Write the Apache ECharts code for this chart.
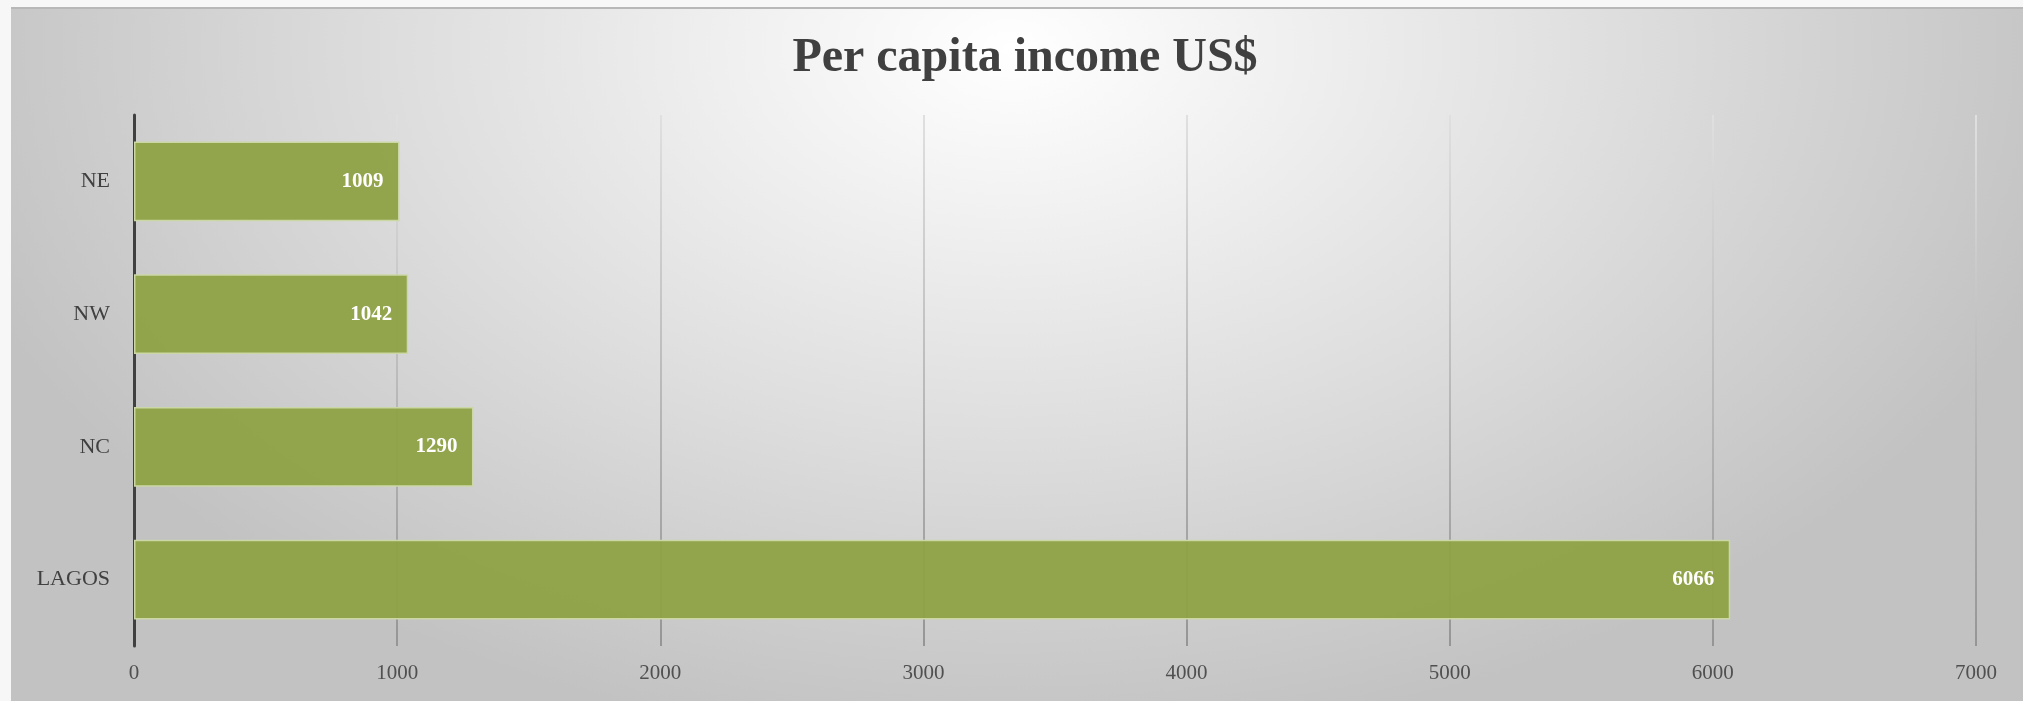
<!DOCTYPE html>
<html><head><meta charset="utf-8">
<script src="https://cdn.jsdelivr.net/npm/echarts@6/dist/echarts.min.js"></script>
<style>
html,body{margin:0;padding:0;width:2023px;height:701px;overflow:hidden;background:#f7f7f7;}
#frame{position:absolute;left:11px;top:7px;width:2012px;height:694px;border-top:2px solid #b8b8b8;
background:radial-gradient(ellipse 1100px 700px at 1000px 40px,#ffffff 0%,#f0f0f0 25%,#dedede 55%,#c2c2c2 100%);}
#chart{position:absolute;left:0;top:0;width:2023px;height:701px;}
</style></head><body>
<div id="frame"></div>
<div id="chart"></div>
<script>
const categories = ['LAGOS','NC','NW','NE'];
const values = [6066, 1290, 1042, 1009];
const xTicks = [0,1000,2000,3000,4000,5000,6000,7000];
const titleText = 'Per capita income US$';

const chart = echarts.init(document.getElementById('chart'), null, {renderer:'canvas'});
chart.setOption({
  backgroundColor:'transparent',
  animation:false,
  title:{text:titleText,left:1020,top:30,textAlign:'center',
    textStyle:{fontFamily:'Liberation Serif',fontWeight:'bold',fontSize:48,color:'#404040'}},
  grid:{left:134,right:47,top:115,bottom:55,containLabel:false},
  xAxis:{type:'value',min:xTicks[0],max:xTicks[xTicks.length-1],interval:1000,
    axisLine:{show:false},axisTick:{show:false},
    axisLabel:{fontFamily:'Liberation Serif',fontSize:21,color:'#505050',margin:17,
      formatter:function(v){return String(v);}},
    splitLine:{show:true,lineStyle:{width:2,color:{type:'linear',x:0,y:0,x2:0,y2:1,global:false,
      colorStops:[{offset:0,color:'#e0e0e0'},{offset:1,color:'#959595'}]}}}},
  yAxis:{type:'category',data:categories,
    axisLine:{show:true,lineStyle:{color:'#404040',width:3}},axisTick:{show:false},
    axisLabel:{fontFamily:'Liberation Serif',fontSize:22,color:'#404040',margin:24}},
  series:[{type:'bar',data:values,barWidth:'60%',
    itemStyle:{color:'rgba(142,161,68,0.95)',borderColor:'#cbd8a6',borderWidth:1.5},
    label:{show:true,position:'insideRight',distance:16,color:'#ffffff',
      fontFamily:'Liberation Serif',fontWeight:'bold',fontSize:21}}]
});
</script></body></html>
